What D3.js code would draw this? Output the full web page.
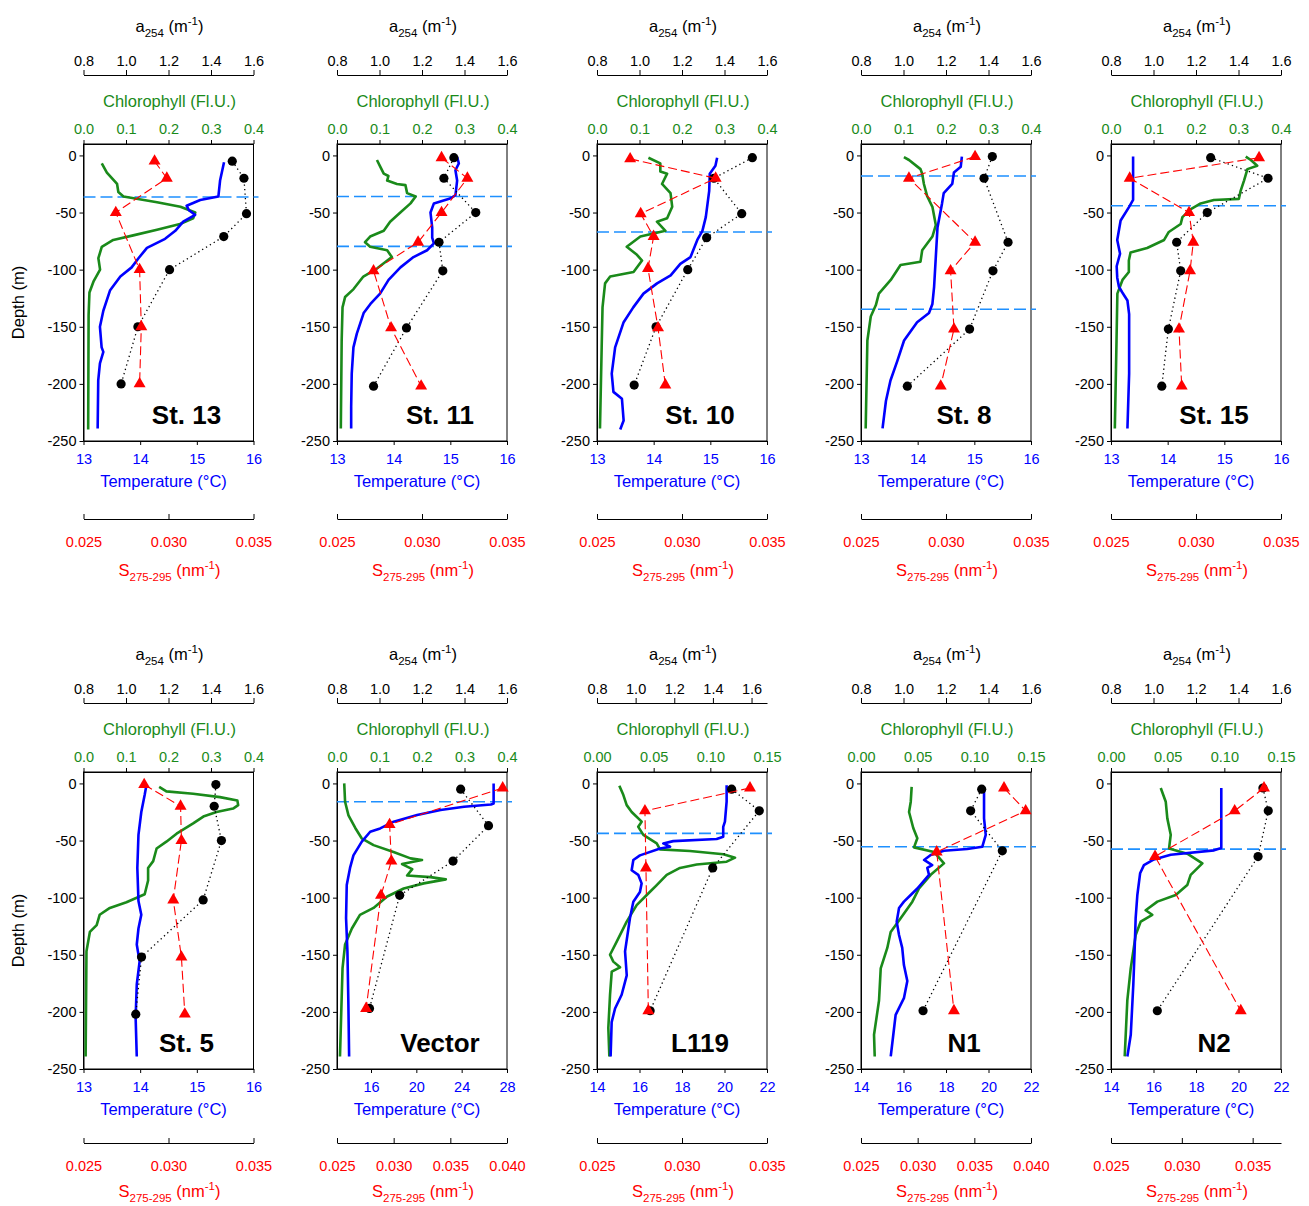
<!DOCTYPE html>
<html>
<head>
<meta charset="utf-8">
<script src="https://cdn.jsdelivr.net/npm/d3@7"></script>
<style>
  body { margin: 0; background: #fff; }
  svg { font-family: "Liberation Sans", Arial, sans-serif; }
</style>
</head>
<body>
<script>
// station names, one per panel
const stations = ['St. 13', 'St. 11', 'St. 10', 'St. 8', 'St. 15', 'St. 5', 'Vector', 'L119', 'N1', 'N2'];

// [depth (m), value]
// a254 (m-1), black circles
const a254_st13 = [[-5,1.50],[-20,1.555],[-51,1.567],[-71,1.46],[-100,1.205],[-150,1.056],[-200,0.977]];
const a254_st11 = [[-2,1.35],[-20,1.303],[-50,1.453],[-76,1.28],[-101,1.298],[-151,1.127],[-202,0.972]];
const a254_st10 = [[-2,1.531],[-20,1.35],[-51,1.481],[-72,1.316],[-100,1.227],[-150,1.078],[-201,0.975]];
const a254_st8  = [[-1,1.418],[-20,1.379],[-76,1.492],[-101,1.421],[-152,1.311],[-202,1.018]];
const a254_st15 = [[-2,1.269],[-20,1.539],[-50,1.253],[-76,1.109],[-101,1.128],[-152,1.07],[-202,1.039]];
const a254_st5  = [[-1,1.423],[-20,1.415],[-50,1.449],[-102,1.363],[-152,1.073],[-202,1.046]];
const a254_vec  = [[-5,1.382],[-37,1.513],[-68,1.346],[-98,1.095],[-197,0.953]];
const a254_l119 = [[-5,1.497],[-24,1.64],[-74,1.399],[-199,1.075]];
const a254_n1   = [[-5,1.368],[-24,1.316],[-59,1.465],[-199,1.092]];
const a254_n2   = [[-4,1.515],[-24,1.54],[-64,1.492],[-199,1.018]];

// S275-295 (nm-1), red triangles
const s_st13 = [[-5,0.02918],[-20,0.0299],[-50,0.0269],[-100,0.0283],[-150,0.0284],[-200,0.0283]];
const s_st11 = [[-2,0.03115],[-20,0.03267],[-50,0.03115],[-76,0.02977],[-101,0.02715],[-151,0.02818],[-202,0.02995]];
const s_st10 = [[-3,0.02695],[-20,0.03198],[-51,0.02757],[-71,0.02833],[-99,0.0280],[-151,0.02859],[-201,0.02902]];
const s_st8  = [[-1,0.03171],[-20,0.02782],[-76,0.03171],[-101,0.03027],[-152,0.03047],[-202,0.02969]];
const s_st15 = [[-2,0.03371],[-20,0.0261],[-50,0.02959],[-76,0.02984],[-101,0.02965],[-152,0.029],[-202,0.02916]];
const s_st5  = [[-1,0.02857],[-20,0.03071],[-50,0.03076],[-102,0.03028],[-152,0.03076],[-202,0.03096]];
const s_vec  = [[-4,0.03962],[-36,0.02964],[-68,0.0298],[-98,0.02888],[-197,0.02757]];
const s_l119 = [[-4,0.034],[-24,0.02782],[-74,0.02788],[-199,0.02802]];
const s_n1   = [[-4,0.03762],[-24,0.03953],[-60,0.03168],[-199,0.0332]];
const s_n2   = [[-4,0.0358],[-24,0.03373],[-64,0.02811],[-199,0.03416]];

// temperature (°C), blue line
const temp_st13 = [[-6,15.48],[-22,15.41],[-36,15.38],[-39,15.06],[-44,14.82],[-48,14.86],[-52,14.97],[-58,14.76],[-66,14.62],[-73,14.44],[-81,14.12],[-90,13.97],[-98,13.85],[-106,13.65],[-118,13.47],[-136,13.35],[-150,13.29],[-168,13.32],[-172,13.35],[-182,13.29],[-197,13.26],[-239,13.25]];
const temp_st11 = [[-1.5,15.12],[-7,15.15],[-13,15.09],[-22,15.12],[-35,15.09],[-38,14.98],[-42,14.71],[-50,14.65],[-63,14.68],[-72,14.68],[-77,14.71],[-83,14.59],[-89,14.35],[-98,14.12],[-109,13.91],[-121,13.76],[-130,13.59],[-138,13.47],[-147,13.41],[-156,13.35],[-168,13.29],[-191,13.26],[-220,13.25],[-239,13.25]];
const temp_st10 = [[-2,15.12],[-9,15.09],[-16,14.99],[-31,14.98],[-54,14.92],[-66,14.86],[-74,14.77],[-89,14.65],[-95,14.47],[-105,14.30],[-112,14.06],[-121,13.82],[-133,13.64],[-146,13.47],[-168,13.32],[-191,13.26],[-207,13.29],[-213,13.44],[-232,13.47],[-240,13.41]];
const temp_st8  = [[-1,14.78],[-10,14.76],[-15,14.64],[-25,14.61],[-33,14.46],[-42,14.43],[-63,14.35],[-89,14.32],[-115,14.29],[-130,14.26],[-138,14.2],[-146,13.99],[-162,13.76],[-180,13.64],[-197,13.52],[-215,13.44],[-239,13.38]];
const temp_st15 = [[-1,13.39],[-39,13.39],[-45,13.32],[-57,13.17],[-74,13.11],[-86,13.16],[-97,13.1],[-107,13.11],[-115,13.14],[-120,13.2],[-127,13.29],[-139,13.32],[-191,13.32],[-239,13.29]];
const temp_st5  = [[-1.5,14.11],[-10,14.08],[-25,14.02],[-45,13.97],[-74,13.95],[-103,13.97],[-115,14.02],[-127,13.97],[-141,13.94],[-156,13.99],[-176,13.94],[-205,13.92],[-239,13.94]];
const temp_vec  = [[0,26.82],[-17.5,26.82],[-18.4,26.58],[-20.4,24.21],[-23.3,22.14],[-27.7,20.07],[-33.5,18.0],[-39.4,16.81],[-42.3,15.93],[-51,15.19],[-63,14.45],[-74,14.15],[-89,13.86],[-118,13.8],[-147,13.92],[-190,14.0],[-239,14.07]];
const temp_l119 = [[-1.5,20.1],[-16,20.1],[-33.5,20.02],[-38,19.94],[-46.6,19.94],[-48.7,19.63],[-50.5,17.59],[-52.5,17.12],[-55.4,17.44],[-57,16.97],[-63,16.02],[-67,15.71],[-76,15.63],[-80,15.94],[-87.5,16.1],[-95,16.02],[-103.5,15.71],[-118,15.55],[-147,15.32],[-168,15.4],[-185,15.16],[-197,14.85],[-209,14.69],[-239,14.64]];
const temp_n1   = [[-4.4,19.79],[-30.6,19.79],[-45,19.87],[-55.4,19.71],[-57.4,19.0],[-59,17.9],[-62.7,17.28],[-67,16.97],[-71.5,17.35],[-74,17.12],[-80,17.2],[-92,16.65],[-97.7,16.34],[-103.5,16.02],[-109,15.79],[-121,15.68],[-132.7,15.79],[-144,15.94],[-159,16.02],[-173,16.18],[-188,16.02],[-202.6,15.63],[-220,15.52],[-239,15.4]];
const temp_n2   = [[-4,19.19],[-56.6,19.19],[-58.6,18.85],[-62.4,16.81],[-66.5,16.02],[-71.5,15.55],[-78.7,15.37],[-97.7,15.24],[-118,15.16],[-147,15.11],[-176,15.05],[-220,14.93],[-239,14.77]];

// chlorophyll (Fl.U.), green line
const chl_st13 = [[-7,0.043],[-15,0.055],[-25,0.079],[-32,0.082],[-36,0.094],[-41,0.173],[-45,0.228],[-50,0.263],[-55,0.258],[-60,0.227],[-65,0.173],[-70,0.117],[-74,0.07],[-80,0.043],[-90,0.035],[-100,0.039],[-110,0.024],[-120,0.014],[-140,0.012],[-240,0.011]];
const chl_st11 = [[-4,0.094],[-10,0.102],[-16,0.110],[-18,0.121],[-22,0.118],[-25,0.141],[-26,0.161],[-33,0.165],[-36,0.185],[-42,0.173],[-50,0.149],[-58,0.125],[-66,0.110],[-71,0.078],[-76,0.066],[-80,0.078],[-83,0.118],[-89,0.129],[-99,0.094],[-106,0.062],[-117,0.039],[-124,0.019],[-133,0.013],[-162,0.011],[-239,0.009]];
const chl_st10 = [[-2,0.121],[-7,0.149],[-14,0.149],[-16,0.165],[-25,0.153],[-33,0.173],[-45,0.177],[-55,0.165],[-58,0.141],[-66,0.161],[-71,0.102],[-80,0.070],[-87,0.094],[-92,0.106],[-102,0.086],[-106,0.031],[-112,0.019],[-133,0.013],[-168,0.011],[-239,0.007]];
const chl_st8  = [[-1.5,0.101],[-4,0.113],[-12,0.140],[-16,0.144],[-25,0.148],[-36,0.156],[-45,0.168],[-61,0.176],[-71,0.168],[-83,0.144],[-93,0.140],[-96,0.093],[-109,0.07],[-121,0.042],[-131,0.035],[-141,0.023],[-162,0.015],[-239,0.011]];
const chl_st15 = [[-1,0.317],[-4,0.329],[-9,0.344],[-12,0.321],[-22,0.313],[-31,0.305],[-38,0.301],[-39,0.242],[-42,0.211],[-47,0.188],[-54,0.168],[-60,0.164],[-67,0.136],[-74,0.125],[-81,0.085],[-85,0.046],[-92,0.042],[-102,0.042],[-109,0.027],[-121,0.015],[-162,0.013],[-239,0.009]];
const chl_st5  = [[-3,0.178],[-7,0.195],[-9,0.258],[-12,0.321],[-15,0.362],[-19,0.364],[-22,0.352],[-25,0.313],[-29,0.282],[-35,0.258],[-44,0.219],[-51,0.195],[-57,0.172],[-68,0.164],[-74,0.152],[-85,0.152],[-97,0.144],[-104,0.101],[-109,0.062],[-115,0.038],[-124,0.031],[-130,0.015],[-147,0.007],[-239,0.005]];
const chl_vec  = [[0,0.017],[-16,0.019],[-28,0.027],[-39,0.043],[-48,0.058],[-54,0.086],[-60,0.133],[-65.6,0.173],[-67,0.2],[-70.6,0.153],[-75,0.177],[-80.6,0.165],[-82,0.22],[-84,0.256],[-87.5,0.204],[-92,0.157],[-99,0.118],[-109,0.086],[-115,0.054],[-127,0.035],[-141,0.019],[-162,0.013],[-239,0.007]];
const chl_l119 = [[-2,0.0197],[-10,0.0232],[-19,0.0262],[-25,0.0306],[-33.5,0.0394],[-38,0.0364],[-45,0.0409],[-52.5,0.0527],[-57.7,0.0556],[-59.2,0.082],[-62,0.1115],[-65,0.1218],[-68.5,0.1144],[-71,0.088],[-74,0.0732],[-80,0.0615],[-89,0.0527],[-97.7,0.0439],[-106.5,0.035],[-121,0.0262],[-138.5,0.0174],[-150,0.0115],[-156,0.0144],[-161,0.0203],[-164.7,0.013],[-185,0.0115],[-214,0.01],[-239,0.0109]];
const chl_n1   = [[-3,0.0447],[-16,0.0439],[-25,0.0424],[-39,0.0461],[-48,0.0497],[-56,0.0468],[-60,0.0644],[-70,0.0732],[-80,0.0615],[-92,0.0512],[-103.5,0.0453],[-118,0.035],[-130,0.0262],[-144,0.0232],[-162,0.0174],[-190,0.0159],[-220,0.0115],[-239,0.0121]];
const chl_n2   = [[-4,0.0439],[-16,0.0483],[-30.6,0.0497],[-45,0.0527],[-57,0.0512],[-61.5,0.0673],[-70,0.0806],[-80,0.0703],[-89,0.0673],[-97.7,0.0571],[-103.5,0.0409],[-111,0.0306],[-115,0.0364],[-121,0.0262],[-132.7,0.0218],[-162,0.0174],[-190,0.0144],[-239,0.0121]];

// mixed layer depths (blue dashed lines)
const mld = [[-36.4], [-35.9, -79.6], [-67], [-18, -134.7], [-44], [], [-16], [-43.7], [-55.4], [-57.5]];

// axis domains and ticks
const a254Dom  = [[0.8,1.6],[0.8,1.6],[0.8,1.6],[0.8,1.6],[0.8,1.6],[0.8,1.6],[0.8,1.6],[0.8,1.68],[0.8,1.6],[0.8,1.6]];
const chlDom   = [[0,0.4],[0,0.4],[0,0.4],[0,0.4],[0,0.4],[0,0.4],[0,0.4],[0,0.15],[0,0.15],[0,0.15]];
const tempDom  = [[13,16],[13,16],[13,16],[13,16],[13,16],[13,16],[13,28],[14,22],[14,22],[14,22]];
const sDom     = [[0.025,0.035],[0.025,0.035],[0.025,0.035],[0.025,0.035],[0.025,0.035],[0.025,0.035],[0.025,0.040],[0.025,0.035],[0.025,0.040],[0.025,0.037]];
const a254Ticks = [0.8, 1.0, 1.2, 1.4, 1.6];
const depthTicks = [0, -50, -100, -150, -200, -250];

const a254All = [a254_st13, a254_st11, a254_st10, a254_st8, a254_st15, a254_st5, a254_vec, a254_l119, a254_n1, a254_n2];
const sAll    = [s_st13, s_st11, s_st10, s_st8, s_st15, s_st5, s_vec, s_l119, s_n1, s_n2];
const tempAll = [temp_st13, temp_st11, temp_st10, temp_st8, temp_st15, temp_st5, temp_vec, temp_l119, temp_n1, temp_n2];
const chlAll  = [chl_st13, chl_st11, chl_st10, chl_st8, chl_st15, chl_st5, chl_vec, chl_l119, chl_n1, chl_n2];

function chlTicks(dom){ return dom[1] > 0.2 ? [0, 0.1, 0.2, 0.3, 0.4] : [0, 0.05, 0.10, 0.15]; }
function tempTicks(dom){
    if (dom[1] === 16) return [13, 14, 15, 16];
    if (dom[1] === 28) return [16, 20, 24, 28];
    return [14, 16, 18, 20, 22];
}
function sTicks(dom){ return dom[1] >= 0.0399 ? [0.025, 0.030, 0.035, 0.040] : [0.025, 0.030, 0.035]; }

const GREEN = '#1a8a1a', BLUE = '#0000ff', RED = '#ff0000', MLDC = '#1e90ff';
const colX = [83.5, 337, 597, 861, 1111];
const rowY = [144, 772];
const sShift = [0, -4];   // lower S axis block sits a little higher in the second row
const W = 170, H = 297;

const svg = d3.select('body').append('svg').attr('width', 1309).attr('height', 1206);

function styleAxis(sel, color){
    sel.select('.domain').attr('stroke', '#000').attr('stroke-width', 1);
    sel.selectAll('.tick line').attr('stroke', '#000');
    sel.selectAll('.tick text').attr('fill', color).attr('font-size', '14.5px')
        .attr('font-family', '"Liberation Sans", Arial, sans-serif');
}

// label helper: main text with sub/superscripts
function richTitle(g, x, y, parts, color){
    const t = g.append('text').attr('x', x).attr('y', y).attr('text-anchor', 'middle')
        .attr('font-size', '16.5px').attr('fill', color);
    let shift = 0;
    parts.forEach(p => {
        const dy = p.pos === 'sub' ? 5 : p.pos === 'sup' ? -7 : 0;
        t.append('tspan').attr('dy', dy - shift)
            .attr('font-size', p.pos ? '11.5px' : '16.5px').text(p.t);
        shift = dy;
    });
}

stations.forEach((name, i) => {
    const row = Math.floor(i / 5);
    const L = colX[i % 5], T = rowY[row];
    const g = svg.append('g').attr('transform', `translate(${L},${T})`);

    const y = d3.scaleLinear([10, -250], [0, H]);
    const xA = d3.scaleLinear(a254Dom[i], [0, W]);
    const xC = d3.scaleLinear(chlDom[i], [0, W]);
    const xT = d3.scaleLinear(tempDom[i], [0, W]);
    const xS = d3.scaleLinear(sDom[i], [0, W]);

    // frame
    g.append('rect').attr('width', W).attr('height', H)
        .attr('fill', 'none').attr('stroke', '#000').attr('stroke-width', 1);

    // depth axis (plain hyphen minus, like the original)
    const yAx = g.append('g').call(d3.axisLeft(y).tickValues(depthTicks).tickFormat(d => String(d))
        .tickSize(4).tickSizeOuter(0).tickPadding(3));
    styleAxis(yAx, '#000');
    if (i % 5 === 0) {
        g.append('text').attr('transform', `translate(-60,${H / 2 + 10}) rotate(-90)`)
            .attr('text-anchor', 'middle').attr('font-size', '16.5px').text('Depth (m)');
    }

    // chlorophyll axis (top of frame)
    const fmtC = chlDom[i][1] > 0.2 ? d3.format('.1f') : d3.format('.2f');
    const cAx = g.append('g').call(d3.axisTop(xC).tickValues(chlTicks(chlDom[i])).tickFormat(fmtC)
        .tickSize(4).tickSizeOuter(0).tickPadding(6));
    styleAxis(cAx, GREEN);
    g.append('text').attr('x', 86).attr('y', -37).attr('text-anchor', 'middle')
        .attr('font-size', '16.5px').attr('fill', GREEN).text('Chlorophyll (Fl.U.)');

    // a254 axis (detached, above)
    const aAx = g.append('g').attr('transform', 'translate(0,-69)')
        .call(d3.axisTop(xA).tickValues(a254Ticks).tickFormat(d3.format('.1f')).tickSize(5).tickSizeOuter(0).tickPadding(4));
    styleAxis(aAx, '#000');
    richTitle(g, 86, -112, [{t: 'a'}, {t: '254', pos: 'sub'}, {t: ' (m'}, {t: '-1', pos: 'sup'}, {t: ')'}], '#000');

    // temperature axis (bottom of frame)
    const tAx = g.append('g').attr('transform', `translate(0,${H})`)
        .call(d3.axisBottom(xT).tickValues(tempTicks(tempDom[i])).tickFormat(d => String(d))
            .tickSize(4).tickSizeOuter(0).tickPadding(9));
    styleAxis(tAx, BLUE);
    g.append('text').attr('x', 80).attr('y', H + 46).attr('text-anchor', 'middle')
        .attr('font-size', '16.5px').attr('fill', BLUE).text('Temperature (°C)');

    // S275-295 axis (detached, below)
    const sY = H + 78 + sShift[row];
    const sAx = g.append('g').attr('transform', `translate(0,${sY})`)
        .call(d3.axisTop(xS).tickValues(sTicks(sDom[i])).tickFormat(d3.format('.3f')).tickSize(5).tickSizeOuter(0));
    styleAxis(sAx, RED);
    sAx.selectAll('.tick text').attr('y', 28).attr('dy', 0);
    richTitle(g, 86, sY + 57 - (row ? 3 : 0), [{t: 'S'}, {t: '275-295', pos: 'sub'}, {t: ' (nm'}, {t: '-1', pos: 'sup'}, {t: ')'}], RED);

    // mixed layer depth
    g.selectAll('.mld').data(mld[i]).join('line').attr('class', 'mld')
        .attr('x1', 0).attr('x2', W + 5).attr('y1', d => y(d)).attr('y2', d => y(d))
        .attr('stroke', MLDC).attr('stroke-width', 1.6).attr('stroke-dasharray', '12,5');

    // profiles
    const lineC = d3.line().x(d => xC(d[1])).y(d => y(d[0]));
    const lineT = d3.line().x(d => xT(d[1])).y(d => y(d[0]));
    g.append('path').datum(chlAll[i]).attr('d', lineC)
        .attr('fill', 'none').attr('stroke', GREEN).attr('stroke-width', 2.6).attr('stroke-linejoin', 'round');
    g.append('path').datum(tempAll[i]).attr('d', lineT)
        .attr('fill', 'none').attr('stroke', BLUE).attr('stroke-width', 2.6).attr('stroke-linejoin', 'round');

    // a254 discrete samples
    const lineA = d3.line().x(d => xA(d[1])).y(d => y(d[0]));
    g.append('path').datum(a254All[i]).attr('d', lineA)
        .attr('fill', 'none').attr('stroke', '#000').attr('stroke-width', 1.3)
        .attr('stroke-dasharray', '1.3,3.2');
    g.selectAll('.dot').data(a254All[i]).join('circle').attr('class', 'dot')
        .attr('cx', d => xA(d[1])).attr('cy', d => y(d[0])).attr('r', 4.6).attr('fill', '#000');

    // S275-295 discrete samples
    const lineS = d3.line().x(d => xS(d[1])).y(d => y(d[0]));
    g.append('path').datum(sAll[i]).attr('d', lineS)
        .attr('fill', 'none').attr('stroke', RED).attr('stroke-width', 1.1)
        .attr('stroke-dasharray', '9,4');
    const tri = d3.symbol().type(d3.symbolTriangle).size(62);
    g.selectAll('.tri').data(sAll[i]).join('path').attr('class', 'tri')
        .attr('transform', d => `translate(${xS(d[1])},${y(d[0])})`)
        .attr('d', tri).attr('fill', RED);

    // station label
    g.append('text').attr('x', 103).attr('y', 280).attr('text-anchor', 'middle')
        .attr('font-size', '26px').attr('font-weight', 'bold').text(name);
});
</script>
</body>
</html>
